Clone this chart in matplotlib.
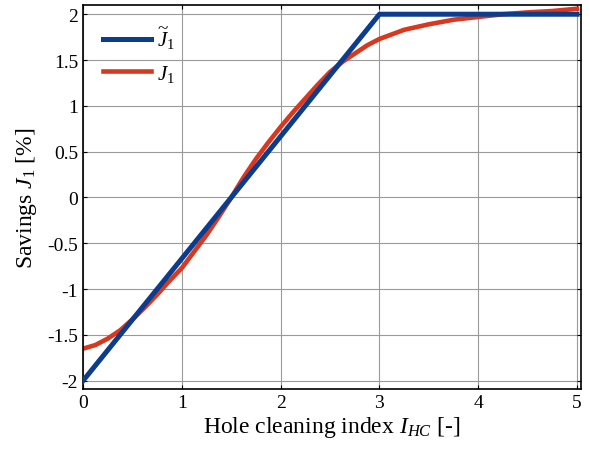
import numpy as np
import matplotlib
matplotlib.use('Agg')
import matplotlib.pyplot as plt

plt.rcParams['font.family'] = 'Liberation Serif'
plt.rcParams['mathtext.fontset'] = 'custom'
plt.rcParams['mathtext.rm'] = 'Liberation Serif'
plt.rcParams['mathtext.it'] = 'Liberation Serif:italic'

# piecewise linear approximation
x_lin = [0, 3, 5]
j_lin = [-2, 2, 2]

# computed savings
x_sav = [0, 0.125, 0.25, 0.375, 0.5, 0.625, 0.75, 0.875, 1.0, 1.125, 1.25,
         1.375, 1.5, 1.625, 1.75, 1.875, 2.0, 2.125, 2.25, 2.375, 2.5,
         2.625, 2.75, 2.875, 3.0, 3.25, 3.5, 3.75, 4.0, 4.25, 4.5, 4.75, 5.0]
j_sav = [-1.65, -1.61, -1.54, -1.45, -1.33, -1.20, -1.06, -0.91, -0.77, -0.59, -0.41,
         -0.21, 0.0, 0.22, 0.42, 0.60, 0.77, 0.93, 1.08, 1.23, 1.37,
         1.48, 1.57, 1.66, 1.73, 1.83, 1.89, 1.94, 1.97, 2.0, 2.02, 2.035, 2.06]

xticks = [0, 1, 2, 3, 4, 5]
yticks = [-2, -1.5, -1, -0.5, 0, 0.5, 1, 1.5, 2]
ytick_labels = ['-2', '-1.5', '-1', '-0.5', '0', '0.5', '1', '1.5', '2']

fig = plt.figure(figsize=(5.9, 4.56), dpi=100)
ax = fig.add_axes([0.1407, 0.1447, 0.844, 0.842])

ax.plot(x_lin, j_lin, color='#0b3d8c', lw=3.6, label=r'$\widetilde{J}_{\mathit{1}}$', zorder=3)
ax.plot(x_sav, j_sav, color='#d9381e', lw=3.3, label=r'$J_{\mathit{1}}$', zorder=2)

ax.set_xlim(0, 5.04)
ax.set_ylim(-2.09, 2.1)
ax.set_xticks(xticks)
ax.set_yticks(yticks)
ax.set_yticklabels(ytick_labels)
ax.grid(True, color='#9a9a9a', lw=0.8)
ax.tick_params(direction='in', top=True, right=True, labelsize=14, length=3)
for s in ax.spines.values():
    s.set_linewidth(1.2)

ax.set_xlabel(r'Hole cleaning index $I_{HC}$ [-]', fontsize=17, labelpad=2)
ax.set_ylabel(r'Savings $J_{\mathit{1}}$ [%]', fontsize=17, labelpad=6)

ax.legend(loc='upper left', frameon=False, fontsize=15, handlelength=2.3,
          handletextpad=0.3, borderaxespad=0.55, labelspacing=0.55)

fig.savefig('out.png', dpi=100)
